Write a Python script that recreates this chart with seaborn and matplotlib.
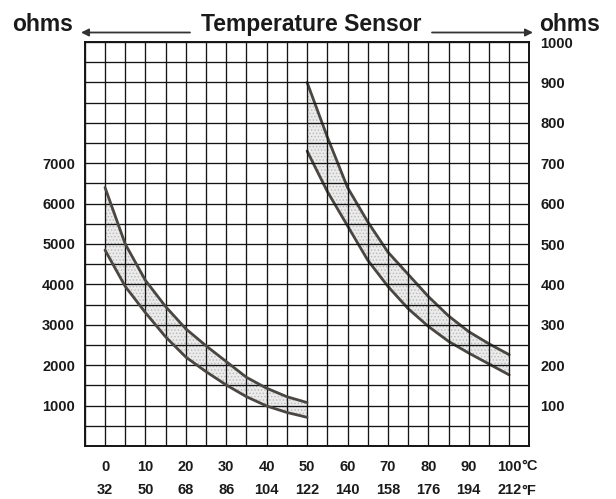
import numpy as np
import matplotlib
matplotlib.use("Agg")
import matplotlib.pyplot as plt
import seaborn as sns

# ---- data ----
temps_left = [0, 5, 10, 15, 20, 25, 30, 35, 40, 45, 50]
left_upper = [6400, 5000, 4100, 3450, 2900, 2480, 2090, 1700, 1430, 1220, 1075]
left_lower = [4850, 3950, 3300, 2700, 2200, 1840, 1510, 1220, 990, 830, 710]

temps_right = [50, 55, 60, 65, 70, 75, 80, 85, 90, 95, 100]
right_upper = [900, 765, 640, 555, 480, 425, 370, 322, 283, 253, 226]
right_lower = [730, 630, 545, 460, 395, 340, 296, 259, 230, 203, 176]

celsius_ticks = [0, 10, 20, 30, 40, 50, 60, 70, 80, 90, 100]
fahrenheit_labels = ["32", "50", "68", "86", "104", "122", "140", "158", "176", "194", "212"]
left_tick_values = [1000, 2000, 3000, 4000, 5000, 6000, 7000]
right_tick_values = [100, 200, 300, 400, 500, 600, 700, 800, 900, 1000]

title = "Temperature Sensor"
unit_label = "ohms"

# ---- style ----
sns.set_theme(style="white")
plt.rcParams["font.family"] = ["Liberation Sans", "DejaVu Sans"]
plt.rcParams["font.weight"] = "bold"
plt.rcParams["hatch.linewidth"] = 0.6

curve_color = "#4a4641"
text_color = "#1a1a1a"
grid_color = "#141414"

W, H = 616, 499
fig = plt.figure(figsize=(W / 100, H / 100), dpi=100)
fig.patch.set_facecolor("white")
ax = fig.add_axes([84.8 / W, 53 / H, 444.6 / W, 404 / H])
ax2 = ax.twinx()
ax.set_zorder(ax2.get_zorder() + 1)
ax.patch.set_visible(False)

ax.set_xlim(-5, 105)
ax.set_ylim(0, 10000)
ax2.set_ylim(0, 1000)

# ---- bands ----
ax.fill_between(temps_left, left_lower, left_upper, facecolor="#ebebeb",
                edgecolor="#b9b9b9", hatch=".....", linewidth=0, zorder=1)
ax2.fill_between(temps_right, right_lower, right_upper, facecolor="#ebebeb",
                 edgecolor="#b9b9b9", hatch=".....", linewidth=0, zorder=1)

for yv in (left_upper, left_lower):
    sns.lineplot(x=temps_left, y=yv, ax=ax, color=curve_color, lw=2.0,
                 legend=False, zorder=3)
for yv in (right_upper, right_lower):
    sns.lineplot(x=temps_right, y=yv, ax=ax2, color=curve_color, lw=2.0,
                 legend=False, zorder=3)

# ---- grid / ticks ----
xgrid = np.arange(-5, 106, 5)
xlabels = []
for t in xgrid:
    if t in celsius_ticks:
        xlabels.append(f"{t}\n{fahrenheit_labels[celsius_ticks.index(t)]}")
    else:
        xlabels.append("")
ax.set_xticks(xgrid)
ax.set_xticklabels(xlabels)

ygrid = np.arange(0, 10001, 500)
ax.set_yticks(ygrid)
ax.set_yticklabels([f"{v}" if v in left_tick_values else "" for v in ygrid])

y2grid = np.arange(0, 1001, 50)
ax2.set_yticks(y2grid)
ax2.set_yticklabels([f"{v}" if v in right_tick_values else "" for v in y2grid])

ax.set_axisbelow(False)
ax.grid(True, color=grid_color, lw=0.95, zorder=2)
ax2.grid(False)
ax.set_xlabel("")
ax.set_ylabel("")
ax2.set_ylabel("")

ax.tick_params(axis="x", length=0, pad=10, labelsize=10.5, labelcolor=text_color)
ax.tick_params(axis="y", length=0, pad=7, labelsize=10.5, labelcolor=text_color)
ax2.tick_params(axis="y", length=0, pad=8, labelsize=10.5, labelcolor=text_color)
for lbl in ax.get_xticklabels():
    lbl.set_linespacing(1.85)
    lbl.set_fontweight("bold")
for lbl in ax.get_yticklabels() + ax2.get_yticklabels():
    lbl.set_fontweight("bold")

for a in (ax, ax2):
    for s in a.spines.values():
        s.set_color(grid_color)
        s.set_linewidth(1.2)

# unit suffixes on the last x labels
ax.annotate("°C", xy=(celsius_ticks[-1], 0), xycoords=("data", "axes fraction"),
            xytext=(8.8, -14.2), textcoords="offset points", ha="left", va="center",
            fontsize=10.5, fontweight="bold", color=text_color)
ax.annotate("°F", xy=(celsius_ticks[-1], 0), xycoords=("data", "axes fraction"),
            xytext=(8.8, -32.3), textcoords="offset points", ha="left", va="center",
            fontsize=10.5, fontweight="bold", color=text_color)

# ---- header ----
yb = 1 - 31 / H
ya = 1 - 32.5 / H
fig.text(12 / W, yb, unit_label, ha="left", va="baseline", fontsize=16.5,
         fontweight="bold", color=text_color)
fig.text(539 / W, yb, unit_label, ha="left", va="baseline", fontsize=16.5,
         fontweight="bold", color=text_color)
fig.text(311 / W, yb, title, ha="center", va="baseline", fontsize=16.5,
         fontweight="bold", color=text_color)
arrow_kw = dict(arrowstyle="-|>", lw=1.3, color="#333333", mutation_scale=11,
                shrinkA=0, shrinkB=0)
ax.annotate("", xy=(81 / W, ya), xytext=(190 / W, ya),
            xycoords="figure fraction", textcoords="figure fraction",
            arrowprops=arrow_kw, annotation_clip=False)
ax.annotate("", xy=(533 / W, ya), xytext=(432 / W, ya),
            xycoords="figure fraction", textcoords="figure fraction",
            arrowprops=arrow_kw, annotation_clip=False)

fig.savefig("out.png", dpi=100, facecolor="white")
